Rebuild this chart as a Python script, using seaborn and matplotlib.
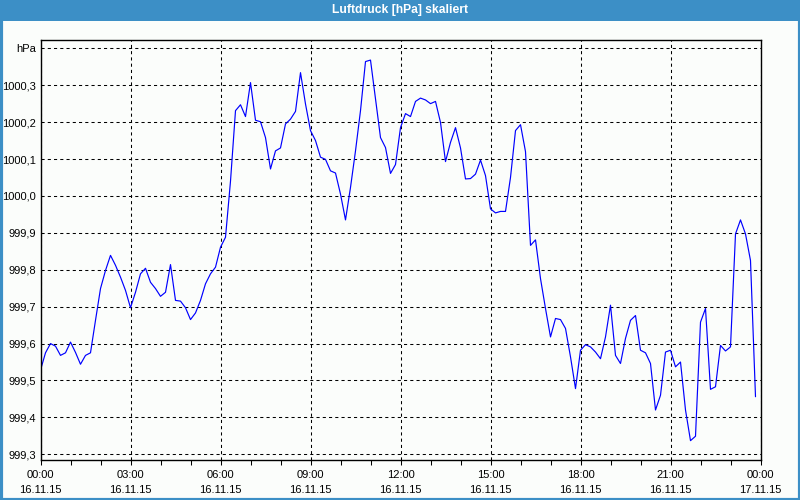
import matplotlib
matplotlib.use("Agg")
import matplotlib.pyplot as plt
import matplotlib.dates as mdates
from matplotlib.patches import Rectangle
import seaborn as sns
import pandas as pd
import numpy as np

# ---- data ----
title = "Luftdruck [hPa] skaliert"
start_time = "2015-11-16 00:00"
pressure_hpa = [
    999.528, 999.575, 999.600, 999.593, 999.568, 999.575, 999.604, 999.576, 999.544, 999.568,
    999.575, 999.663, 999.749, 999.798, 999.839, 999.812, 999.780, 999.744, 999.697, 999.739,
    999.789, 999.804, 999.766, 999.749, 999.728, 999.739, 999.814, 999.717, 999.715, 999.697,
    999.665, 999.683, 999.717, 999.762, 999.789, 999.807, 999.861, 999.888, 1000.040, 1000.231,
    1000.247, 1000.215, 1000.307, 1000.205, 1000.201, 1000.158, 1000.073, 1000.122, 1000.130, 1000.195,
    1000.208, 1000.229, 1000.334, 1000.249, 1000.177, 1000.150, 1000.105, 1000.099, 1000.068, 1000.062,
    1000.005, 999.935, 1000.023, 1000.122, 1000.231, 1000.364, 1000.368, 1000.262, 1000.158, 1000.131,
    1000.061, 1000.085, 1000.185, 1000.223, 1000.215, 1000.256, 1000.265, 1000.260, 1000.250, 1000.256,
    1000.199, 1000.093, 1000.145, 1000.185, 1000.130, 1000.046, 1000.047, 1000.059, 1000.097, 1000.055,
    999.965, 999.954, 999.958, 999.958, 1000.050, 1000.177, 1000.193, 1000.120, 999.866, 999.881,
    999.776, 999.695, 999.618, 999.668, 999.665, 999.641, 999.564, 999.478, 999.582, 999.597,
    999.591, 999.577, 999.559, 999.618, 999.704, 999.568, 999.546, 999.614, 999.663, 999.676,
    999.582, 999.575, 999.546, 999.420, 999.460, 999.577, 999.582, 999.537, 999.550, 999.420,
    999.337, 999.349, 999.658, 999.695, 999.476, 999.483, 999.595, 999.580, 999.591, 999.897,
    999.935, 999.897, 999.825, 999.456,
]
y_tick_values = [999.3, 999.4, 999.5, 999.6, 999.7, 999.8, 999.9,
                 1000.0, 1000.1, 1000.2, 1000.3, 1000.4]
y_tick_labels = ["999,3", "999,4", "999,5", "999,6", "999,7", "999,8", "999,9",
                 "1000,0", "1000,1", "1000,2", "1000,3", "hPa"]

times = pd.date_range(start_time, periods=len(pressure_hpa), freq="10min")
df = pd.DataFrame({"time": times, "hPa": pressure_hpa})

sns.set_style("white")
plt.rcParams["font.family"] = ["Liberation Sans", "DejaVu Sans"]

bg = "#fbfdfb"
blue_frame = "#3c8fc6"

fig = plt.figure(figsize=(8, 5), dpi=100, facecolor=bg)
ax = fig.add_axes([40.5 / 800, 40 / 500, 720 / 800, 420 / 500])
ax.set_facecolor(bg)

sns.lineplot(data=df, x="time", y="hPa", ax=ax, color="#0000ff", linewidth=0.85)

ax.set_xlim(pd.Timestamp("2015-11-16 00:00"), pd.Timestamp("2015-11-17 00:00"))
ax.set_ylim(999.2846, 1000.4224)

ax.xaxis.set_major_locator(mdates.HourLocator(byhour=range(0, 24, 3)))
ax.xaxis.set_minor_locator(mdates.HourLocator())
ax.xaxis.set_major_formatter(mdates.DateFormatter("%H:%M\n%d.%m.%y"))
ax.set_yticks(y_tick_values)
ax.set_yticklabels(y_tick_labels)

ax.grid(True, which="major", color="black", linestyle=(0, (3, 3)), linewidth=0.75)
ax.tick_params(axis="x", which="both", direction="out", length=3.5, width=0.75,
               color="black", bottom=True, labelsize=8, pad=4, labelcolor="#000000")
ax.tick_params(axis="y", which="both", length=0, labelsize=8, pad=3, labelcolor="#000000")
for lbl in ax.get_xticklabels():
    lbl.set_linespacing(1.6)

for s in ax.spines.values():
    s.set_visible(True)
    s.set_color("black")
    s.set_linewidth(1.0)

ax.set_xlabel("")
ax.set_ylabel("")

# title bar and window frame
fig.patches.append(Rectangle((0, 1 - 21 / 500), 1, 21 / 500, transform=fig.transFigure,
                             facecolor=blue_frame, edgecolor="none", zorder=0))
fig.patches.append(Rectangle((0.5 / 800, 0.5 / 500), 799 / 800, 499 / 500, transform=fig.transFigure,
                             facecolor="none", edgecolor=blue_frame, linewidth=3, zorder=5))
fig.text(0.5, 1 - 10.5 / 500, title, ha="center", va="center", color="white",
         fontsize=8.7, fontweight="bold")

fig.savefig("out.png", dpi=100, facecolor=bg)
